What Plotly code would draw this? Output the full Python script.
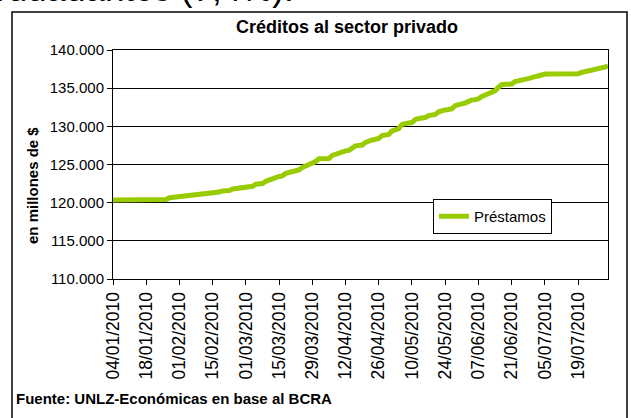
import pandas as pd
import plotly.graph_objects as go

# business days from 04/01/2010
dates = pd.bdate_range("2010-01-04", periods=150).strftime("%d/%m/%Y").tolist()

prestamos = [
    120350, 120360, 120370, 120370, 120380,
    120380, 120380, 120390, 120390, 120390,
    120380, 120390, 120400, 120400, 120400,
    120410, 120420, 120650, 120700, 120720,
    120740, 120760, 120950, 120990, 121000,
    121010, 121150, 121200, 121210, 121220,
    121240, 121380, 121400, 121540, 121560,
    121580, 121800, 121850, 121880, 121900,
    122100, 122130, 122150, 122420, 122470,
    122500, 122800, 123000, 123050, 123350,
    123430, 123500, 123850, 123950, 124050,
    124250, 124300, 124600, 124820, 124900,
    125200, 125390, 125750, 125780, 125780,
    125790, 126200, 126390, 126450, 126700,
    126790, 126850, 127250, 127440, 127480,
    127550, 127900, 128150, 128220, 128300,
    128400, 128800, 128880, 128950, 129400,
    129620, 129700, 130250, 130410, 130450,
    130500, 130900, 131020, 131080, 131150,
    131400, 131500, 131560, 131900, 132100,
    132150, 132200, 132300, 132700, 132900,
    132950, 133050, 133350, 133460, 133500,
    133600, 133900, 134110, 134300, 134550,
    134650, 135100, 135450, 135510, 135520,
    135530, 135850, 136000, 136080, 136150,
    136250, 136450, 136510, 136600, 136800,
    136850, 136860, 136860, 136860, 136860,
    136860, 136860, 136860, 136870, 136870,
    136880, 137050, 137150, 137200, 137250,
    137450, 137510, 137600, 137750, 137950,
]

tick_labels = ["04/01/2010", "18/01/2010", "01/02/2010", "15/02/2010", "01/03/2010",
               "15/03/2010", "29/03/2010", "12/04/2010", "26/04/2010", "10/05/2010",
               "24/05/2010", "07/06/2010", "21/06/2010", "05/07/2010", "19/07/2010"]
y_ticks = [110000, 115000, 120000, 125000, 130000, 135000, 140000]

FONT = "Liberation Sans, Arial, sans-serif"

W, H = 639, 418
L, R, T, B = 113, 608, 50, 279

def px(x):
    return (x - L) / (R - L)

def py(y):
    return (B - y) / (B - T)

fig = go.Figure()
fig.add_trace(go.Scatter(
    x=dates, y=prestamos, mode="lines", name="Préstamos",
    line=dict(color="#99CC00", width=5),
))

fig.update_layout(
    width=W, height=H,
    margin=dict(l=L, r=W - R, t=T, b=H - B, pad=0),
    paper_bgcolor="white", plot_bgcolor="white",
    separators=",.",
    showlegend=True,
    legend=dict(
        x=px(433), y=py(199), xanchor="left", yanchor="top",
        bordercolor="black", borderwidth=1, bgcolor="white",
        font=dict(family=FONT, size=15, color="black"),
        itemwidth=30,
    ),
    xaxis=dict(
        type="category", range=[0, len(dates) - 1],
        tickmode="array", tickvals=tick_labels, ticktext=tick_labels,
        tickangle=-90, ticks="outside", ticklen=5, tickcolor="black",
        showline=True, linecolor="black", linewidth=1, mirror=True,
        showgrid=False, zeroline=False,
        tickfont=dict(family=FONT, size=17.5, color="black"),
    ),
    yaxis=dict(
        range=[110000, 140000], tickvals=y_ticks, tickformat=",.0f",
        ticks="outside", ticklen=5, tickcolor="black",
        showline=True, linecolor="black", linewidth=1, mirror=True,
        showgrid=True, gridcolor="black", gridwidth=1, zeroline=False,
        tickfont=dict(family=FONT, size=15, color="black"),
    ),
)

# outer chart frame
fig.add_shape(type="rect", xref="paper", yref="paper",
              x0=px(12), x1=px(627), y0=py(425), y1=py(12),
              line=dict(color="black", width=1.5), fillcolor="rgba(0,0,0,0)", layer="below")

fig.add_annotation(xref="paper", yref="paper", x=px(347), y=py(27), yanchor="middle",
                   text="<b>Créditos al sector privado</b>", showarrow=False,
                   font=dict(family=FONT, size=18, color="black"))
fig.add_annotation(xref="paper", yref="paper", x=px(32), y=py(186), xanchor="center",
                   yanchor="middle",
                   text="<b>en millones de $</b>", showarrow=False, textangle=-90,
                   font=dict(family=FONT, size=15, color="black"))
fig.add_annotation(xref="paper", yref="paper", x=px(14), y=py(398), xanchor="left",
                   yanchor="middle",
                   text="<b>Fuente: UNLZ-Económicas en base al BCRA</b>", showarrow=False,
                   font=dict(family=FONT, size=15, color="black"))
# clipped text of the surrounding document
fig.add_annotation(xref="paper", yref="paper", x=px(-6), y=py(-11), xanchor="left",
                   yanchor="middle",
                   text="rudadantes (7,4%).", showarrow=False,
                   font=dict(family=FONT, size=35, color="black"))

fig.write_html("out.html", config={"displayModeBar": False},
               post_script="document.body.style.margin='0';document.body.style.overflow='hidden';")
